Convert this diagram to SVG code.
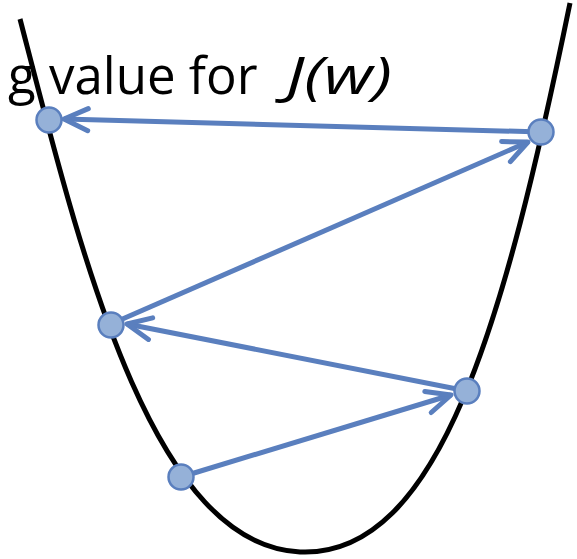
<svg xmlns="http://www.w3.org/2000/svg" width="577" height="559" viewBox="0 0 577 559">
<style>
.lbl{font-family:"Open Sans","Liberation Sans",sans-serif;font-size:51px;fill:#000}
.curve{fill:none;stroke:#000;stroke-width:5}
.arr{fill:none;stroke:#5A7FBE;stroke-width:5;marker-end:url(#ah)}
.pt{fill:#95B1D8;stroke:#5A7FBE;stroke-width:2.5}
</style>
<defs>
<marker id="ah" viewBox="-30 -15 34 30" refX="0" refY="0" markerWidth="34" markerHeight="30" markerUnits="userSpaceOnUse" orient="auto">
<path d="M-24,-11 L0,0 L-24,11" fill="none" stroke="#5A7FBE" stroke-width="5" stroke-linecap="round" stroke-linejoin="round"/>
</marker>
</defs>
<rect width="577" height="559" fill="#fff"/>
<g id="label">
<text class="lbl" x="8" y="94">g value for</text>
<text class="lbl" x="286" y="94" font-style="italic" textLength="106" lengthAdjust="spacingAndGlyphs">J(w)</text>
</g>
<g id="curve">
<path class="curve" d="M20,19 C80,250 150,545 300,552 C440,558 505,320 570,3"/>
</g>
<g id="connectors">
<line class="arr" x1="181" y1="477" x2="451" y2="395"/>
<line class="arr" x1="467" y1="391" x2="127" y2="324"/>
<line class="arr" x1="111" y1="324" x2="528" y2="142"/>
<line class="arr" x1="542" y1="132" x2="64" y2="119"/>
</g>
<g id="p1"><circle class="pt" cx="49" cy="120" r="12.5"/></g>
<g id="p2"><circle class="pt" cx="541" cy="132" r="12.5"/></g>
<g id="p3"><circle class="pt" cx="111" cy="325" r="12.5"/></g>
<g id="p4"><circle class="pt" cx="467" cy="391" r="12.5"/></g>
<g id="p5"><circle class="pt" cx="181" cy="477" r="12.5"/></g>
</svg>
